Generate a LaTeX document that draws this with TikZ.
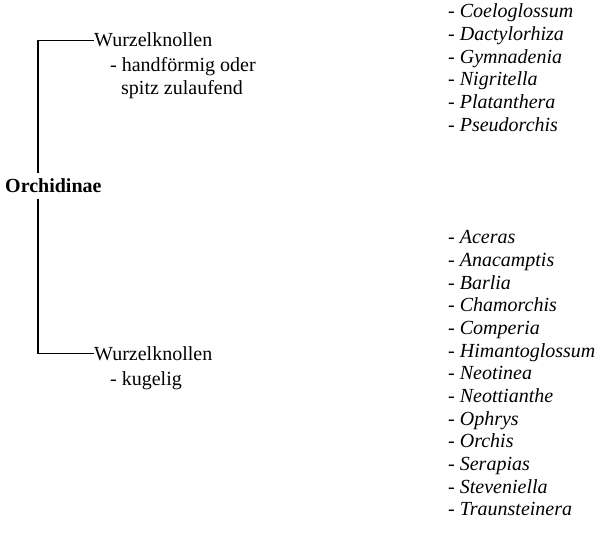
\documentclass[tikz,border=0pt]{standalone}
\usepackage{fontspec}
\setmainfont{Liberation Serif}
\usetikzlibrary{positioning}

\tikzset{
    txt/.style={anchor=base west, inner sep=0pt, font=\fontsize{20}{22}\selectfont},
    root/.style={txt, inner ysep=6pt, font=\fontsize{20}{22}\selectfont\bfseries},
    genus/.style={txt},
    branch/.style={line width=1.4pt}
}

\begin{document}
\begin{tikzpicture}[x=1pt, y=-1pt]

    \useasboundingbox (0,0) rectangle (599,534);

    \coordinate (bar) at (38,0);

    \node (orch) [root] at (5,193) {Orchidinae};
    \node (top) [txt] at (94,47) {Wurzelknollen};
    \node (top1) [txt] at (110,72) {- handförmig oder};
    \node (top2) [txt] at (121,95) {spitz zulaufend};
    \node (bot) [txt] at (94,360) {Wurzelknollen};
    \node (bot1) [txt] at (110,385) {- kugelig};

    \draw[branch] (orch.north -| bar) |- (top.west);
    \draw[branch] (orch.south -| bar) |- (bot.west);

    % upper group
    \foreach \genus [count=\i from 0] in {Coeloglossum,Dactylorhiza,Gymnadenia,Nigritella,Platanthera,Pseudorchis}
        \node (up\i) [genus] at (448,18+22.65*\i) {- \textit{\genus}};

    % lower group
    \foreach \genus [count=\i from 0] in {Aceras,Anacamptis,Barlia,Chamorchis,Comperia,Himantoglossum,Neotinea,Neottianthe,Ophrys,Orchis,Serapias,Steveniella,Traunsteinera}
        \node (low\i) [genus] at (448,244+22.65*\i) {- \textit{\genus}};

\end{tikzpicture}
\end{document}
